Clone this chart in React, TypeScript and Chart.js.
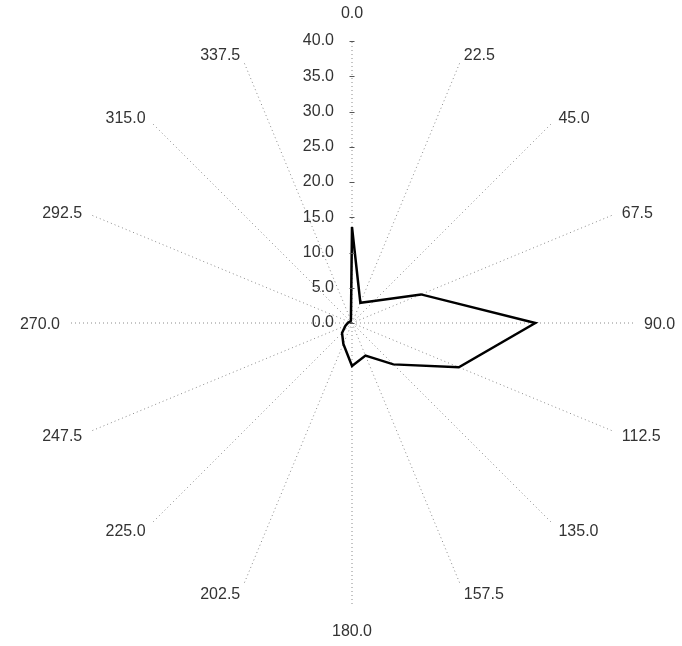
import React, { useEffect, useRef } from 'react';
import { Chart, registerables } from 'chart.js';

Chart.register(...registerables);

const directions = ['0.0', '22.5', '45.0', '67.5', '90.0', '112.5', '135.0', '157.5', '180.0', '202.5', '225.0', '247.5', '270.0', '292.5', '315.0', '337.5'];
const frequency = [13.6, 3.1, 4.4, 10.6, 26.0, 16.4, 8.3, 5.0, 6.1, 3.2, 2.0, 1.0, 0.6, 0.4, 0.3, 0.4];
const radialTicks = [0, 5, 10, 15, 20, 25, 30, 35, 40];

const FONT = '"Liberation Sans", Arial, sans-serif';

const labelsPlugin = {
  id: 'customLabels',
  afterDraw(chart: any) {
    const r = chart.scales.r;
    const ctx = chart.ctx;
    ctx.save();
    ctx.font = `16px ${FONT}`;
    ctx.fillStyle = '#333';
    ctx.strokeStyle = '#555';
    ctx.lineWidth = 1;
    // radial tick labels on the left of the 0° spoke
    ctx.textAlign = 'right';
    ctx.textBaseline = 'middle';
    for (const v of radialTicks) {
      const d = r.getDistanceFromCenterForValue(v);
      const y = r.yCenter - d;
      ctx.fillText(v.toFixed(1), r.xCenter - 18, y);
      ctx.beginPath();
      ctx.moveTo(r.xCenter - 2.5, Math.round(y) + 0.5);
      ctx.lineTo(r.xCenter + 2.5, Math.round(y) + 0.5);
      ctx.stroke();
    }
    // direction labels outside the plot
    for (let i = 0; i < directions.length; i++) {
      const base = r.getPointPosition(i, r.drawingArea);
      const dx = base.x - r.xCenter;
      if (Math.abs(dx) < 1) {
        const p = r.getPointPosition(i, r.drawingArea + 27);
        ctx.textAlign = 'center';
        ctx.fillText(directions[i], p.x, p.y);
      } else {
        const p = r.getPointPosition(i, r.drawingArea + 10);
        ctx.textAlign = dx > 0 ? 'left' : 'right';
        ctx.fillText(directions[i], p.x, p.y + 2);
      }
    }
    ctx.restore();
  },
};

export default function App() {
  const ref = useRef<HTMLCanvasElement>(null);
  useEffect(() => {
    if (!ref.current) return;
    const chart = new Chart(ref.current, {
      type: 'radar',
      data: {
        labels: directions,
        datasets: [
          {
            data: frequency,
            borderColor: '#000',
            borderWidth: 2.5,
            pointRadius: 0,
            fill: false,
            tension: 0,
          },
        ],
      },
      options: {
        animation: false,
        responsive: true,
        maintainAspectRatio: false,
        layout: { padding: { left: 22, right: 0, top: 41, bottom: 41 } },
        plugins: { legend: { display: false }, tooltip: { enabled: false } },
        scales: {
          r: {
            min: 0,
            max: 40,
            ticks: { display: false, stepSize: 5 },
            grid: { display: false },
            angleLines: { color: '#8a8a8a', lineWidth: 1, borderDash: [1, 3] },
            pointLabels: { display: false },
          },
        },
      },
      plugins: [labelsPlugin],
    });
    return () => chart.destroy();
  }, []);
  return (
    <div style={{ position: 'fixed', left: 0, top: 0, width: 682, height: 646, background: '#fff' }}>
      <canvas ref={ref} />
    </div>
  );
}
